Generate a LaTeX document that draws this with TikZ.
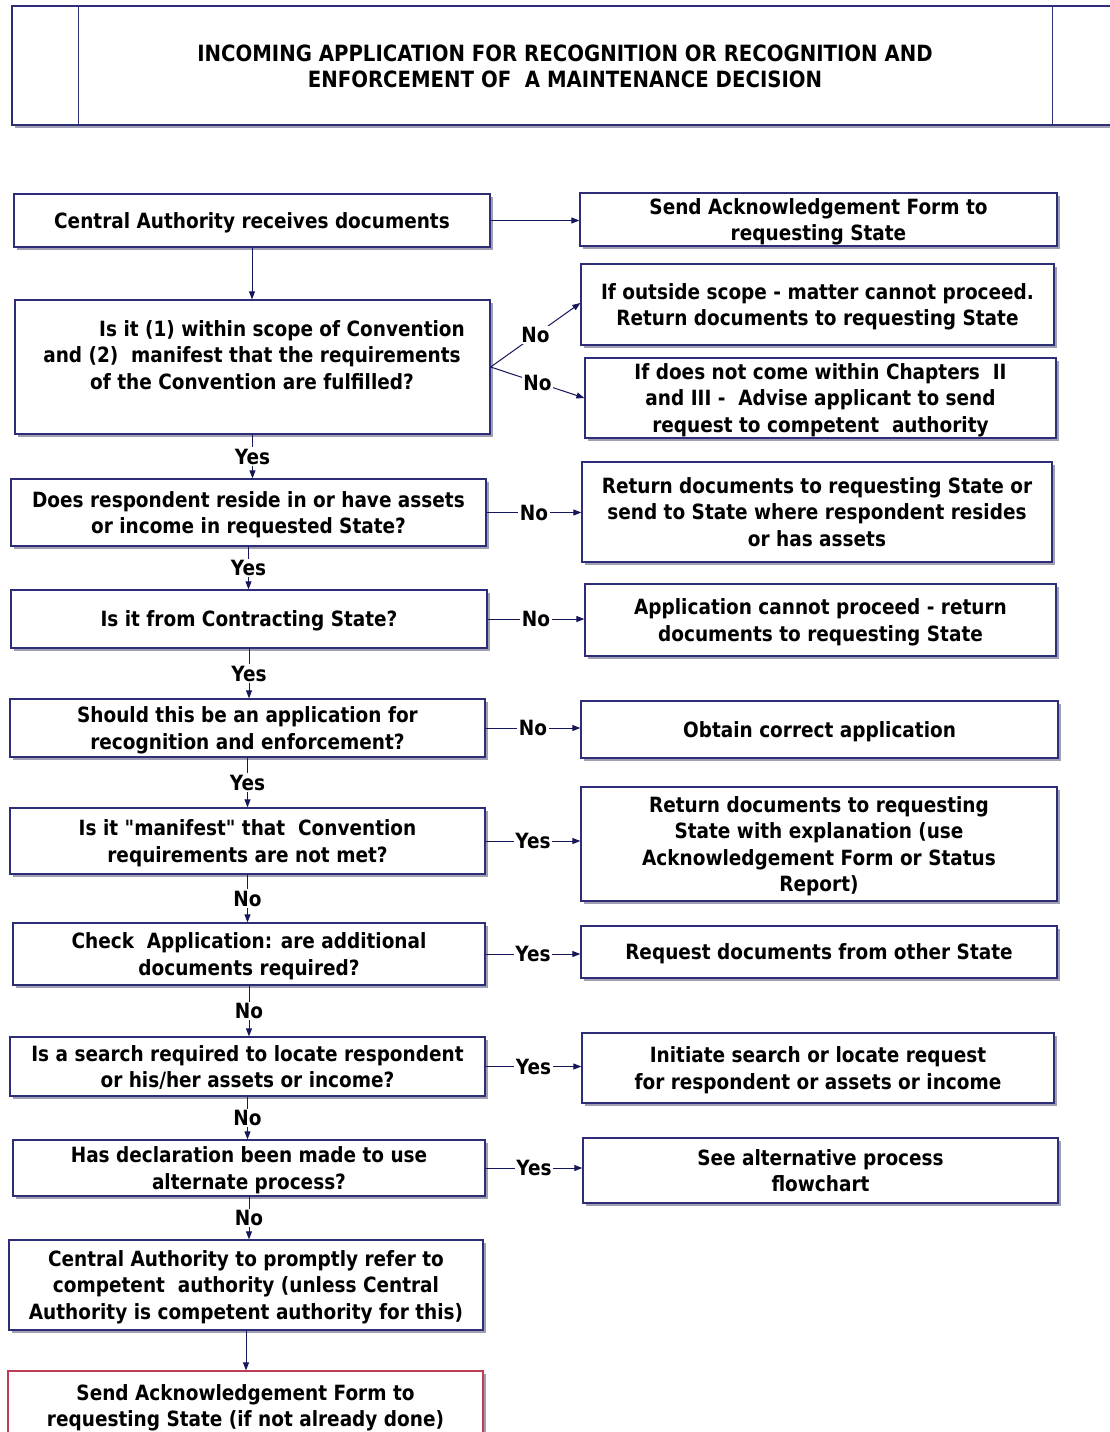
\documentclass[tikz,border=0pt]{standalone}
\usepackage{fontspec}
\usetikzlibrary{arrows.meta,shadows}
\newfontfamily\bodyfont{DejaVu Sans}[FakeStretch=0.88]
\newfontfamily\headfont{DejaVu Sans}[FakeStretch=0.88]
\definecolor{navy}{RGB}{46,46,120}
\definecolor{wire}{RGB}{22,22,90}
\definecolor{shade}{RGB}{160,160,178}
\definecolor{rose}{RGB}{190,60,85}
\tikzset{
  box/.style={draw=navy, line width=1.3pt, fill=white, align=center, inner sep=0pt,
    font={\bodyfont\bfseries\fontsize{21}{26.5}\selectfont},
    execute at begin node={\rule{0pt}{20pt}},
    execute at end node={\rule[-5pt]{0pt}{5pt}},
    drop shadow={shadow xshift=3pt, shadow yshift=-3pt, fill=shade, opacity=1}},
  % several lines of text sit a little lower in their box
  ml/.style={text depth=-1pt},
  txt/.style={align=center, inner sep=0pt,
    font={\bodyfont\bfseries\fontsize{21}{26.5}\selectfont}},
  conn/.style={draw=wire, line width=1pt, -{Triangle[length=8pt,width=6pt]}},
  lbl/.style={fill=white, inner sep=1.5pt, text=black,
    font={\bodyfont\bfseries\fontsize{21}{24}\selectfont}}
}
\begin{document}
\begin{tikzpicture}[x=1pt,y=-1pt]
\useasboundingbox (0,0) rectangle (1110,1432);
\fill[white] (0,0) rectangle (1110,1432);

% heading band
\node[box, minimum width=1113pt, minimum height=119pt] (hdr) at (568.5,65.5) {};
\draw[navy, line width=1.3pt] ([xshift=67pt]hdr.north west) -- ([xshift=67pt]hdr.south west);
\draw[navy, line width=1.3pt] ([xshift=1041pt]hdr.north west) -- ([xshift=1041pt]hdr.south west);
\node[align=center, inner sep=0pt, font={\headfont\bfseries\fontsize{22.4}{26}\selectfont}] (title) at (565,66)
  {INCOMING APPLICATION FOR RECOGNITION OR RECOGNITION AND\\ENFORCEMENT OF\ \ A MAINTENANCE DECISION};

% main column
\node[box, minimum width=476pt, minimum height=53pt] (b1) at (252,220.5) {Central Authority receives documents};
\node[box, minimum width=475pt, minimum height=134pt] (b2) at (252.5,367) {};
\node[txt] (b2t) at (252,355) {\hspace*{60pt}Is it (1) within scope of Convention\\and (2)\ \ manifest that the requirements\\of the Convention are fulfilled?};
\node[box, ml, minimum width=475pt, minimum height=67pt] (b3) at (248.5,512.5) {Does respondent reside in or have assets\\or income in requested State?};
\node[box, minimum width=476pt, minimum height=58pt] (b4) at (249,619) {Is it from Contracting State?};
\node[box, ml, minimum width=475pt, minimum height=58pt] (b5) at (247.5,728) {Should this be an application for\\recognition and enforcement?};
\node[box, ml, minimum width=475pt, minimum height=66pt] (b6) at (247.5,841) {Is it "manifest" that\ \ Convention\\requirements are not met?};
\node[box, ml, minimum width=472pt, minimum height=62pt] (b7) at (249,954) {Check\ \ Application: are additional\\documents required?};
\node[box, ml, minimum width=475pt, minimum height=59pt] (b8) at (247.5,1066.5) {Is a search required to locate respondent\\or his/her assets or income?};
\node[box, ml, minimum width=472pt, minimum height=56pt] (b9) at (249,1168) {Has declaration been made to use\\alternate process?};
\node[box, ml, minimum width=474pt, minimum height=90pt] (b10) at (246,1285) {Central Authority to promptly refer to\\competent\ \ authority (unless Central\\Authority is competent authority for this)};
\node[box, ml, draw=rose, minimum width=475pt, minimum height=69pt] (b11) at (245.5,1405.5) {Send Acknowledgement Form to\\requesting State (if not already done)};

% outcome column
\node[box, ml, minimum width=477pt, minimum height=53pt] (r1) at (818.5,219.5) {Send Acknowledgement Form to\\requesting State};
\node[box, ml, minimum width=473pt, minimum height=81pt] (r2) at (817.5,304.5) {If outside scope - matter cannot proceed.\\Return documents to requesting State};
\node[box, ml, minimum width=471pt, minimum height=80pt] (r3) at (820.5,398) {If does not come within Chapters\ \ II\\and III -\ \ Advise applicant to send\\request to competent\ \ authority};
\node[box, ml, minimum width=470pt, minimum height=100pt] (r4) at (817,512) {Return documents to requesting State or\\send to State where respondent resides\\or has assets};
\node[box, ml, minimum width=471pt, minimum height=72pt] (r5) at (820.5,620) {Application cannot proceed - return\\documents to requesting State};
\node[box, minimum width=477pt, minimum height=57pt] (r6) at (819.5,729.5) {Obtain correct application};
\node[box, ml, minimum width=476pt, minimum height=114pt] (r7) at (819,844) {Return documents to requesting\\State with explanation (use\\Acknowledgement Form or Status\\Report)};
\node[box, minimum width=476pt, minimum height=52pt] (r8) at (819,952) {Request documents from other State};
\node[box, ml, minimum width=472pt, minimum height=70pt] (r9) at (818,1068) {Initiate search or locate request\\for respondent or assets or income};
\node[box, ml, minimum width=475pt, minimum height=65pt] (r10) at (820.5,1170.5) {See alternative process\\flowchart};

% downward flow
\draw[conn] (b1.south) -- (b1.south |- b2.north);
\draw[conn] (b2.south) -- node[lbl]{Yes} (b2.south |- b3.north);
\draw[conn] (b3.south) -- node[lbl]{Yes} (b3.south |- b4.north);
\draw[conn] (b4.south) -- node[lbl]{Yes} (b4.south |- b5.north);
\draw[conn] (b5.south) -- node[lbl]{Yes} (b5.south |- b6.north);
\draw[conn] (b6.south) -- node[lbl]{No} (b6.south |- b7.north);
\draw[conn] (b7.south) -- node[lbl]{No} (b7.south |- b8.north);
\draw[conn] (b8.south) -- node[lbl]{No} (b8.south |- b9.north);
\draw[conn] (b9.south) -- node[lbl]{No} (b9.south |- b10.north);
\draw[conn] (b10.south) -- (b10.south |- b11.north);

% branches to the right
\draw[conn] (b1.east) -- (b1.east -| r1.west);
\draw[conn] (b2.east) -- node[lbl]{No} ([yshift=1.5pt]r2.west);
\draw[conn] (b2.east) -- node[lbl]{No} (r3.west);
\draw[conn] (b3.east) -- node[lbl]{No} (b3.east -| r4.west);
\draw[conn] (b4.east) -- node[lbl]{No} (b4.east -| r5.west);
\draw[conn] (b5.east) -- node[lbl]{No} (b5.east -| r6.west);
\draw[conn] (b6.east) -- node[lbl]{Yes} (b6.east -| r7.west);
\draw[conn] (b7.east) -- node[lbl]{Yes} (b7.east -| r8.west);
\draw[conn] (b8.east) -- node[lbl]{Yes} (b8.east -| r9.west);
\draw[conn] (b9.east) -- node[lbl]{Yes} (b9.east -| r10.west);
\end{tikzpicture}
\end{document}
